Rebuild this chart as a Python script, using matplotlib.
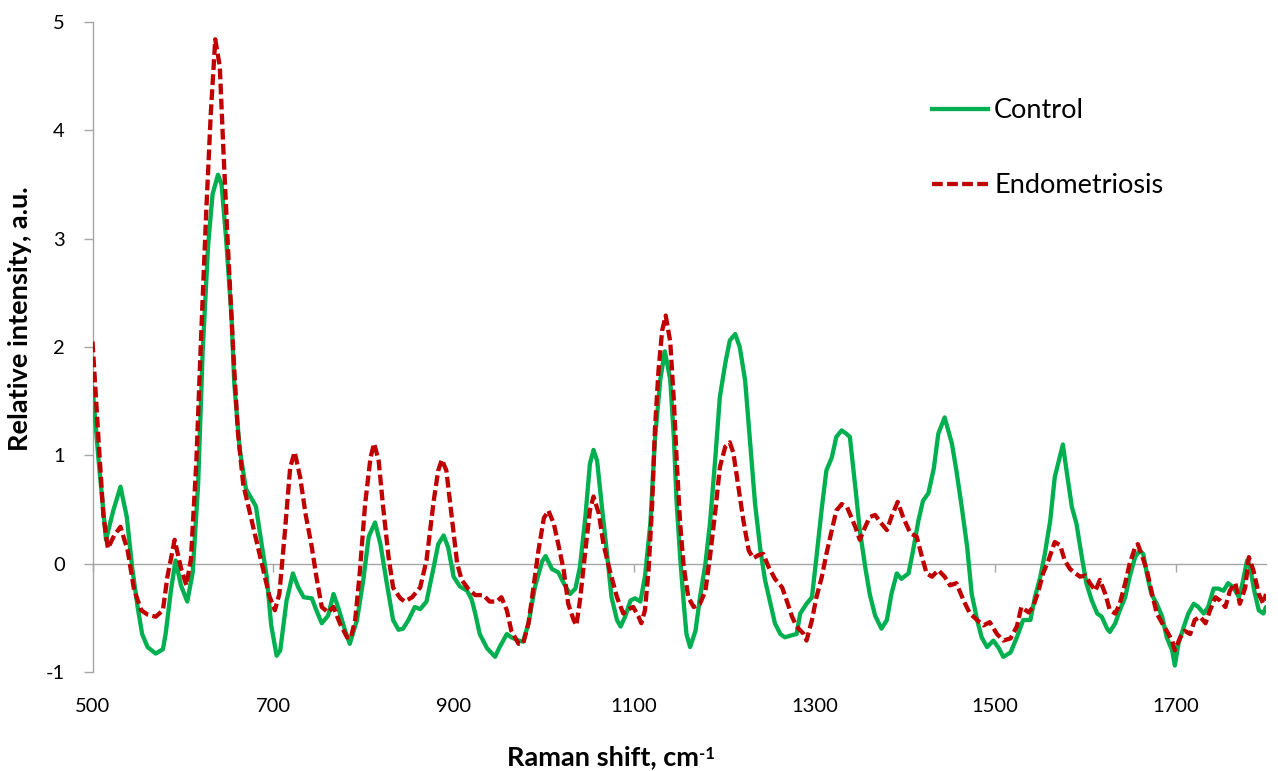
import matplotlib
matplotlib.use("Agg")
import matplotlib.pyplot as plt
from matplotlib.lines import Line2D

# ---------------- data ----------------
x_control = [500, 507, 515, 523, 531, 538, 544, 550, 555, 561, 570, 578, 581, 587, 592, 598,
             605, 611, 617, 622, 628, 633, 639, 643, 648, 654, 657, 663, 670, 681, 687, 693,
             698, 704, 708, 715, 722, 728, 734, 743, 748, 754, 761, 767, 772, 780, 785, 793,
             800, 806, 813, 819, 826, 833, 839, 844, 850, 857, 863, 870, 878, 883, 889, 894,
             900, 907, 915, 920, 924, 929, 937, 946, 951, 959, 964, 972, 977, 983, 990, 998,
             1002, 1009, 1016, 1022, 1029, 1035, 1040, 1046, 1051, 1055, 1059, 1064, 1070, 1075,
             1081, 1085, 1090, 1096, 1101, 1107, 1112, 1118, 1123, 1129, 1134, 1140, 1144, 1147,
             1151, 1155, 1158, 1162, 1168, 1173, 1179, 1184, 1190, 1195, 1201, 1206, 1212, 1217,
             1223, 1228, 1234, 1240, 1245, 1251, 1256, 1262, 1267, 1275, 1280, 1284, 1291, 1297,
             1302, 1308, 1313, 1319, 1324, 1330, 1335, 1339, 1345, 1350, 1356, 1361, 1367, 1374,
             1380, 1385, 1391, 1396, 1404, 1409, 1415, 1420, 1426, 1432, 1437, 1444, 1452, 1457,
             1463, 1469, 1474, 1480, 1485, 1491, 1498, 1504, 1509, 1517, 1524, 1531, 1539, 1544,
             1550, 1555, 1561, 1566, 1572, 1575, 1579, 1585, 1590, 1596, 1601, 1607, 1613, 1618,
             1624, 1627, 1633, 1638, 1644, 1649, 1655, 1660, 1664, 1668, 1673, 1679, 1685, 1690,
             1696, 1699, 1703, 1709, 1714, 1720, 1725, 1731, 1736, 1742, 1747, 1753, 1758, 1764,
             1770, 1774, 1779, 1782, 1787, 1792, 1797, 1800]
y_control = [1.63, 0.93, 0.22, 0.49, 0.71, 0.43, -0.04, -0.40, -0.65, -0.77, -0.83, -0.79, -0.65,
             -0.24, 0.03, -0.20, -0.35, -0.08, 0.73, 1.95, 2.93, 3.41, 3.59, 3.50, 3.00, 2.28,
             1.67, 1.06, 0.69, 0.53, 0.20, -0.12, -0.57, -0.85, -0.80, -0.34, -0.09, -0.22, -0.31,
             -0.32, -0.43, -0.55, -0.48, -0.28, -0.40, -0.62, -0.74, -0.52, -0.15, 0.25, 0.38,
             0.18, -0.18, -0.52, -0.61, -0.60, -0.52, -0.40, -0.42, -0.35, -0.03, 0.18, 0.26,
             0.15, -0.12, -0.21, -0.25, -0.33, -0.46, -0.65, -0.78, -0.86, -0.77, -0.65, -0.68,
             -0.71, -0.72, -0.55, -0.22, 0.02, 0.07, -0.05, -0.08, -0.18, -0.28, -0.23, -0.03,
             0.43, 0.92, 1.05, 0.95, 0.55, 0.09, -0.31, -0.52, -0.58, -0.49, -0.34, -0.32, -0.35,
             -0.12, 0.37, 1.14, 1.70, 1.96, 1.70, 1.17, 0.58, 0.06, -0.37, -0.65, -0.77, -0.62,
             -0.31, 0.00, 0.37, 0.98, 1.54, 1.85, 2.06, 2.12, 2.00, 1.69, 1.17, 0.55, 0.12, -0.15,
             -0.37, -0.55, -0.65, -0.68, -0.66, -0.65, -0.46, -0.37, -0.31, 0.06, 0.52, 0.86,
             0.98, 1.17, 1.23, 1.20, 1.17, 0.71, 0.31, -0.03, -0.28, -0.48, -0.60, -0.52, -0.28,
             -0.09, -0.14, -0.09, 0.12, 0.40, 0.58, 0.65, 0.88, 1.20, 1.35, 1.11, 0.86, 0.52,
             0.15, -0.28, -0.52, -0.68, -0.77, -0.71, -0.78, -0.86, -0.82, -0.68, -0.52, -0.52,
             -0.31, -0.12, 0.09, 0.40, 0.80, 1.00, 1.10, 0.86, 0.52, 0.37, 0.06, -0.18, -0.34,
             -0.46, -0.49, -0.60, -0.63, -0.55, -0.43, -0.31, -0.12, 0.06, 0.12, 0.09, -0.09,
             -0.28, -0.37, -0.49, -0.68, -0.80, -0.94, -0.74, -0.58, -0.46, -0.37, -0.40, -0.46,
             -0.40, -0.23, -0.23, -0.25, -0.18, -0.22, -0.31, -0.18, 0.03, -0.02, -0.25, -0.43,
             -0.46, -0.40]

x_endo = [500, 507, 512, 517, 524, 531, 539, 546, 554, 561, 570, 578, 583, 591, 598, 604, 609,
          615, 620, 626, 631, 636, 641, 645, 650, 656, 661, 667, 676, 683, 691, 696, 702, 707,
          713, 719, 724, 730, 736, 743, 748, 754, 761, 767, 774, 782, 786, 791, 796, 802, 808,
          812, 817, 822, 828, 833, 841, 846, 854, 863, 870, 878, 883, 887, 892, 898, 904, 909,
          916, 924, 933, 940, 948, 953, 959, 964, 972, 977, 983, 988, 994, 1000, 1005, 1011,
          1016, 1022, 1027, 1033, 1036, 1040, 1046, 1051, 1055, 1061, 1066, 1073, 1081, 1088,
          1094, 1099, 1105, 1108, 1112, 1116, 1120, 1123, 1127, 1131, 1135, 1140, 1144, 1147,
          1151, 1155, 1160, 1166, 1173, 1179, 1184, 1190, 1195, 1201, 1206, 1210, 1216, 1221,
          1227, 1232, 1238, 1243, 1249, 1256, 1264, 1269, 1275, 1280, 1288, 1291, 1297, 1302,
          1308, 1313, 1319, 1324, 1330, 1336, 1339, 1345, 1350, 1356, 1361, 1367, 1373, 1380,
          1385, 1392, 1398, 1406, 1413, 1419, 1424, 1430, 1437, 1444, 1450, 1457, 1465, 1472,
          1480, 1487, 1494, 1502, 1509, 1517, 1524, 1529, 1537, 1542, 1548, 1553, 1559, 1566,
          1572, 1577, 1583, 1589, 1594, 1600, 1605, 1611, 1616, 1622, 1627, 1633, 1638, 1644,
          1649, 1655, 1658, 1662, 1668, 1673, 1679, 1685, 1690, 1696, 1699, 1705, 1710, 1716,
          1721, 1727, 1733, 1738, 1744, 1749, 1755, 1760, 1766, 1771, 1777, 1781, 1786, 1792,
          1797, 1800]
y_endo = [2.05, 1.10, 0.45, 0.14, 0.26, 0.34, 0.12, -0.24, -0.43, -0.47, -0.49, -0.43, -0.12,
          0.22, -0.04, -0.20, 0.04, 0.93, 2.03, 3.25, 4.15, 4.84, 4.59, 3.82, 2.93, 1.95, 1.22,
          0.73, 0.41, 0.16, -0.12, -0.30, -0.43, -0.28, 0.28, 0.89, 1.03, 0.80, 0.46, 0.15,
          -0.12, -0.40, -0.45, -0.40, -0.55, -0.68, -0.69, -0.52, -0.09, 0.55, 0.98, 1.11, 0.95,
          0.52, 0.06, -0.22, -0.32, -0.35, -0.31, -0.22, 0.03, 0.58, 0.86, 0.96, 0.86, 0.43,
          0.00, -0.15, -0.23, -0.29, -0.29, -0.35, -0.35, -0.31, -0.43, -0.62, -0.74, -0.74,
          -0.55, -0.25, 0.12, 0.42, 0.49, 0.37, 0.18, -0.06, -0.37, -0.52, -0.57, -0.34, 0.12,
          0.49, 0.62, 0.46, 0.18, -0.06, -0.31, -0.46, -0.42, -0.40, -0.49, -0.55, -0.43, -0.06,
          0.55, 1.23, 1.78, 2.15, 2.29, 2.05, 1.51, 0.98, 0.37, -0.03, -0.31, -0.40, -0.37,
          -0.25, 0.06, 0.49, 0.89, 1.08, 1.12, 1.02, 0.68, 0.40, 0.12, 0.05, 0.08, 0.09, -0.03,
          -0.14, -0.22, -0.34, -0.49, -0.58, -0.65, -0.71, -0.52, -0.31, -0.12, 0.09, 0.31,
          0.49, 0.55, 0.52, 0.46, 0.34, 0.22, 0.34, 0.43, 0.45, 0.38, 0.31, 0.43, 0.57, 0.43,
          0.28, 0.25, 0.06, -0.09, -0.12, -0.06, -0.12, -0.20, -0.18, -0.34, -0.46, -0.52,
          -0.57, -0.54, -0.65, -0.71, -0.69, -0.58, -0.40, -0.45, -0.40, -0.25, -0.09, 0.03,
          0.20, 0.17, 0.03, -0.05, -0.09, -0.12, -0.11, -0.18, -0.25, -0.15, -0.28, -0.43,
          -0.46, -0.37, -0.18, 0.00, 0.15, 0.18, 0.09, -0.06, -0.25, -0.46, -0.55, -0.62, -0.71,
          -0.80, -0.68, -0.62, -0.65, -0.52, -0.49, -0.55, -0.43, -0.31, -0.34, -0.40, -0.25,
          -0.18, -0.37, -0.22, 0.06, -0.06, -0.28, -0.37, -0.28]

x_ticks = [500, 700, 900, 1100, 1300, 1500, 1700]
y_ticks = [-1, 0, 1, 2, 3, 4, 5]
series_labels = ["Control", "Endometriosis"]
x_title = "Raman shift, cm"
x_title_sup = "-1"
y_title = "Relative intensity, a.u."

# ---------------- style ----------------
plt.rcParams['font.family'] = ['Lato', 'DejaVu Sans']
GREEN = '#00B050'
RED = '#C00000'
GRAY = '#A6A6A6'
LW = 3.1
DASH = (0, (2.5, 1.0))

W, H = 1278, 771
fig = plt.figure(figsize=(W / 100, H / 100), dpi=100)
ax = fig.add_axes([92.5 / W, 1 - 672 / H, (1266 - 92.5) / W, 650 / H])

ax.plot(x_control, y_control, color=GREEN, lw=LW, solid_joinstyle='round',
        solid_capstyle='round', zorder=3)
ax.plot(x_endo, y_endo, color=RED, lw=LW, linestyle=DASH, dash_capstyle='butt',
        dash_joinstyle='round', zorder=4)

ax.set_xlim(500, 1800)
ax.set_ylim(-1, 5)

for s in ['top', 'right']:
    ax.spines[s].set_visible(False)
ax.spines['left'].set_color(GRAY)
ax.spines['left'].set_linewidth(1.0)
ax.spines['bottom'].set_position(('data', 0))
ax.spines['bottom'].set_color(GRAY)
ax.spines['bottom'].set_linewidth(1.0)

ax.set_yticks(y_ticks)
ax.set_yticklabels([str(v) for v in y_ticks])
ax.tick_params(axis='y', direction='out', length=6.5, width=1.0, color=GRAY,
               pad=13.5, labelsize=14.5, labelcolor='black')
ax.set_xticks(x_ticks)
ax.tick_params(axis='x', direction='out', length=6, width=1.0, color=GRAY,
               labelbottom=False)

sec = ax.secondary_xaxis('bottom')
sec.set_xticks(x_ticks, labels=[str(v) for v in x_ticks])
sec.tick_params(axis='x', length=0, pad=19, labelsize=14.5, labelcolor='black')
sec.spines['bottom'].set_visible(False)

xt = fig.text(603 / W, 1 - 757 / H, x_title, ha='center', va='center',
              fontsize=19.5, fontweight='bold')
ax.annotate(x_title_sup, xy=(1.0, 0.97), xycoords=xt, ha='left', va='top',
            fontsize=12, fontweight='bold', annotation_clip=False)
fig.text(20 / W, 1 - 319 / H, y_title, ha='center', va='center', rotation=90,
         fontsize=19.5, fontweight='bold')

handles = [Line2D([], [], color=GREEN, lw=LW),
           Line2D([], [], color=RED, lw=LW, linestyle=DASH, dash_capstyle='butt')]
ax.legend(handles, series_labels, loc='upper left',
          bbox_to_anchor=(932 / W, 1 - 98 / H), bbox_transform=fig.transFigure,
          frameon=False, fontsize=19.5, handlelength=2.07, handletextpad=0.22,
          labelspacing=1.85, borderpad=0, borderaxespad=0)

fig.savefig('out.png', dpi=100)
